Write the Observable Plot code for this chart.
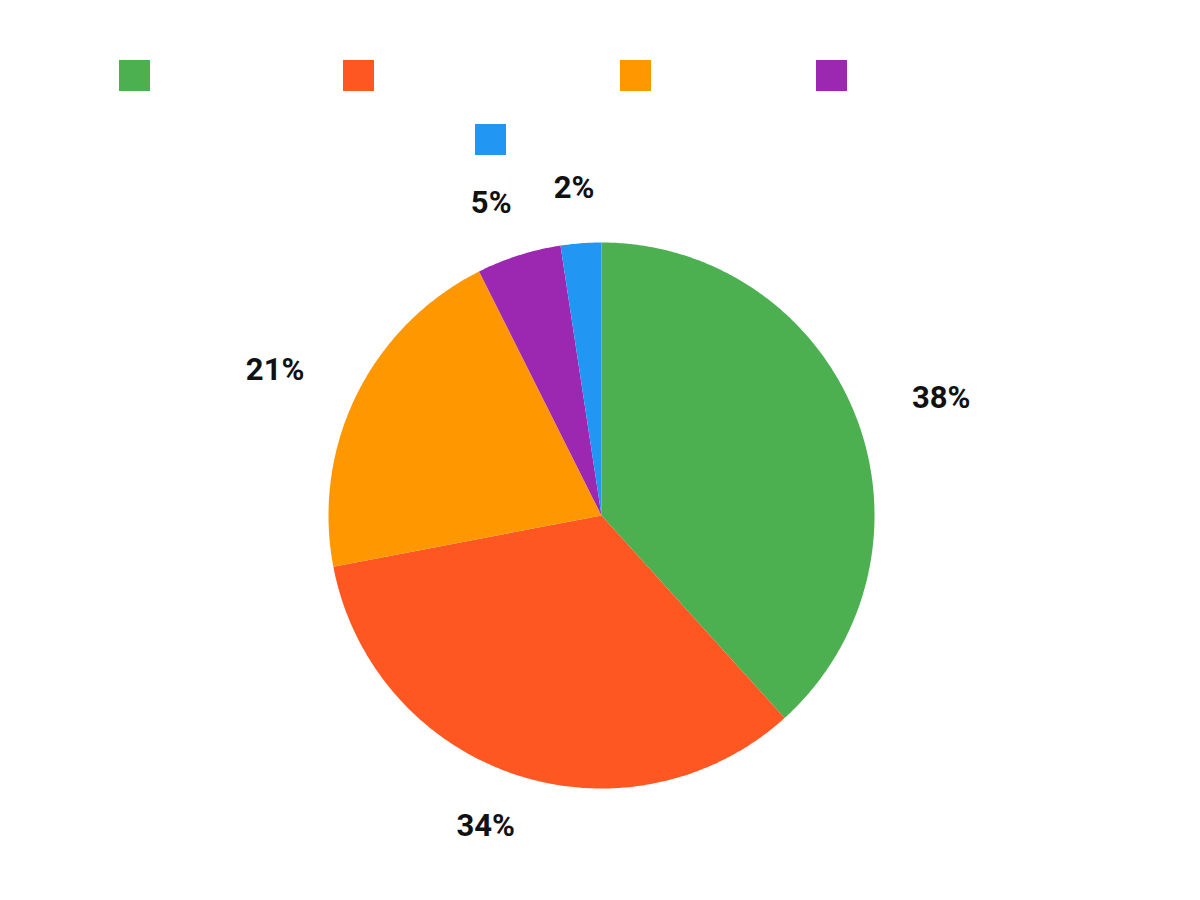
<!DOCTYPE html>
<html><head><meta charset="utf-8">
<script src="https://cdn.jsdelivr.net/npm/d3@7"></script>
<script src="https://cdn.jsdelivr.net/npm/@observablehq/plot@0.6"></script>
<style>
body{margin:0;background:#fff;font-family:Roboto,"Noto Sans",sans-serif}
#legend{position:relative;width:1200px;height:170px}
.sw{position:absolute;width:31px;height:31px}
#chart svg{display:block}
</style></head><body>
<div id="legend"></div>
<div id="chart"></div>
<script>
const categories = ["Series 1", "Series 2", "Series 3", "Series 4", "Series 5"];
const values = [38.3, 33.7, 20.6, 5.0, 2.4];
const colors = ["#4CAF50", "#FF5722", "#FF9800", "#9C27B0", "#2196F3"];
const labels = ["38%", "34%", "21%", "5%", "2%"];

// legend swatch placement (style only)
const legendPos = [[119,60],[343,60],[620,60],[816,60],[475,124]];
const legend = document.getElementById("legend");
categories.forEach((c, i) => {
  const d = document.createElement("div");
  d.className = "sw";
  d.style.left = legendPos[i][0] + "px";
  d.style.top = legendPos[i][1] + "px";
  d.style.background = colors[i];
  d.title = c;
  legend.appendChild(d);
});

const R = 273, RX = 364, RY = 328;
const arcs = d3.pie().sort(null).value(d => d.value)(categories.map((c, i) => ({cat: c, value: values[i], label: labels[i]})));
const pts = [];
arcs.forEach(a => {
  const cat = a.data.cat;
  pts.push({cat, x: 0, y: 0});
  const n = Math.max(2, Math.ceil((a.endAngle - a.startAngle) / (Math.PI / 360)));
  for (let k = 0; k <= n; k++) {
    const t = a.startAngle + (a.endAngle - a.startAngle) * k / n;
    pts.push({cat, x: R * Math.sin(t), y: R * Math.cos(t)});
  }
});
const labelPts = arcs.map(a => {
  const m = (a.startAngle + a.endAngle) / 2;
  return {label: a.data.label, x: RX * Math.sin(m), y: RY * Math.cos(m)};
});

const plot = Plot.plot({
  width: 1200, height: 730, margin: 0,
  x: {axis: null, domain: [-601, 599]},
  y: {axis: null, domain: [-385, 345]},
  color: {domain: categories, range: colors},
  marks: [
    Plot.line(pts, {x: "x", y: "y", z: "cat", fill: "cat", stroke: null, curve: "linear"}),
    Plot.text(labelPts, {x: "x", y: "y", text: "label", fontSize: 31, fontWeight: "bold", fill: "#111", fontFamily: "Roboto"})
  ]
});
document.getElementById("chart").appendChild(plot);
</script>
</body></html>
